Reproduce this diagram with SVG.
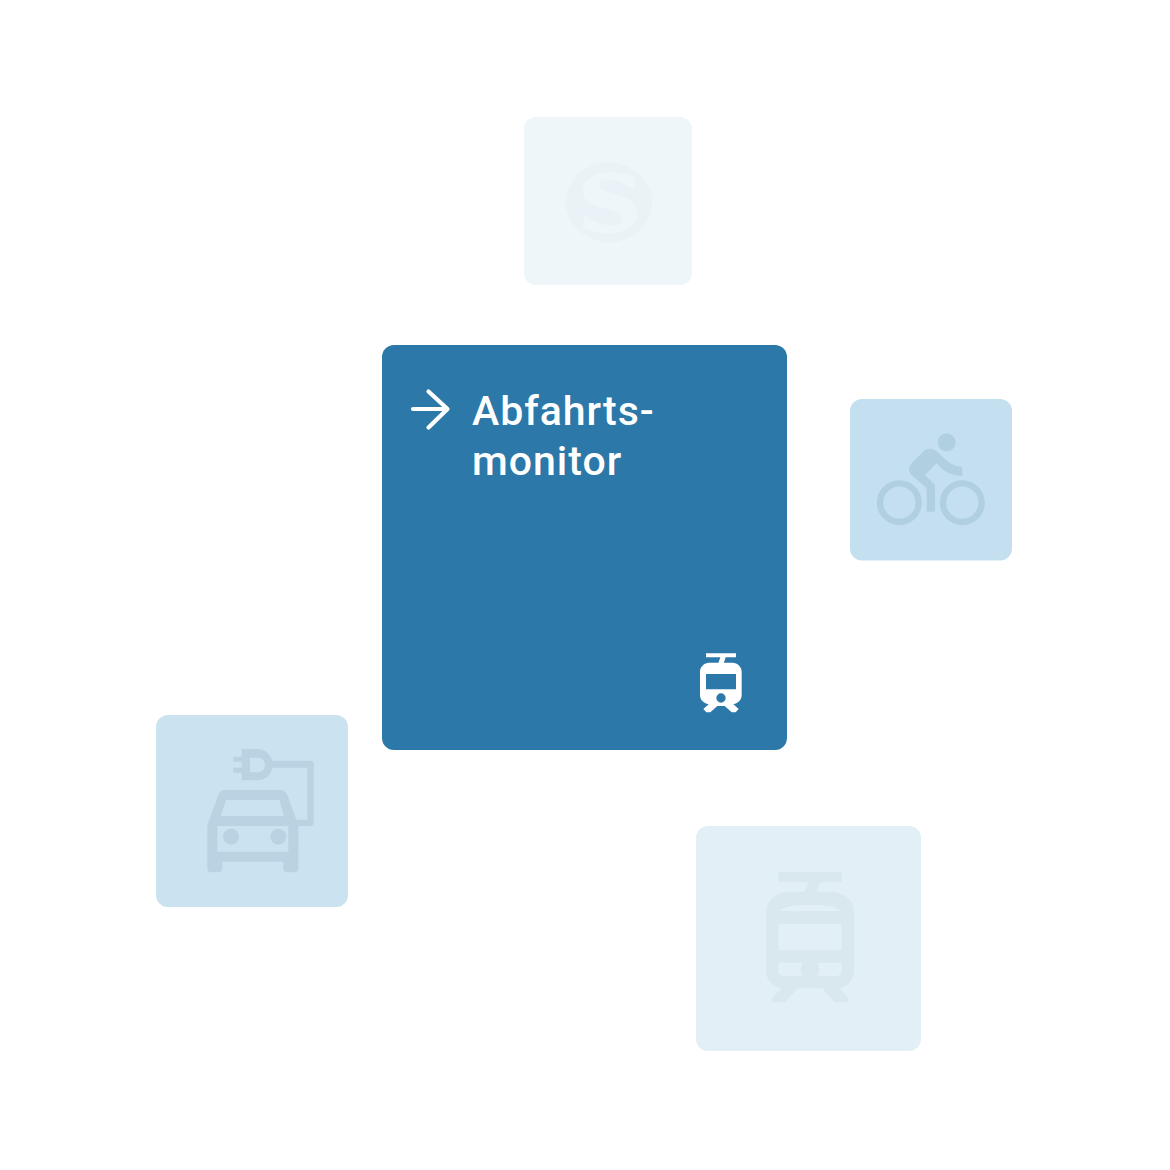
<svg xmlns="http://www.w3.org/2000/svg" width="1170" height="1170" viewBox="0 0 1170 1170">
<style>
.label{font-family:"Roboto","Liberation Sans",sans-serif;font-size:41px;font-weight:500;fill:#fff;letter-spacing:1px}
</style>
<rect width="1170" height="1170" fill="#fff"/>
<g id="node-sbahn">
<rect x="524" y="117" width="168" height="168" rx="12" fill="#eef6fa"/>
<g transform="translate(555 150) scale(.33333)">
<ellipse cx="162" cy="157" rx="130" ry="120" fill="#e9f2f6"/>
<path fill="#eef6fa" d="M240 82L236 120C205 97 170 82 145 88C125 94 128 118 150 124L195 137C245 152 262 190 232 225C195 262 130 252 85 235L88 190C115 218 160 235 188 224C210 212 204 192 172 182L130 170C80 155 70 115 100 88C130 60 190 62 240 82Z"/>
</g>
</g>
<g id="node-bike">
<rect x="850" y="399" width="162" height="161.500" rx="12" fill="#c4dff0"/>
<g transform="translate(865 425) scale(.33333)" fill="#b0cfe1">
<circle cx="245" cy="52" r="27"/>
<circle cx="103" cy="233" r="58" fill="none" stroke="#b0cfe1" stroke-width="19"/>
<circle cx="292" cy="233" r="58" fill="none" stroke="#b0cfe1" stroke-width="19"/>
<path d="M292 126C260 124 240 105 222 85C210 72 195 68 180 75L140 115C128 130 130 140 140 150L185 190V260H210V180L180 150L215 115C235 140 260 153 292 153Z"/>
</g>
</g>
<g id="node-car">
<rect x="156" y="715" width="192" height="192" rx="12" fill="#cbe2f1"/>
<g transform="translate(190 735) scale(.33333)" fill="#bad3e3">
<path fill-rule="evenodd" d="M52 270L85 180Q90 165 105 165H270Q285 165 292 180L325 270V400Q325 412 313 412H292Q280 412 280 400V380H97V400Q97 412 85 412H64Q52 412 52 400ZM108 195L93 243H282L268 195ZM82 273V350H295V273Z"/>
<circle cx="123" cy="305" r="24"/>
<circle cx="265" cy="305" r="24"/>
<path d="M245 77H362Q371 77 371 86V264Q371 273 362 273H318L312 254H352V98H245Z"/>
<path fill-rule="evenodd" d="M155 42H200C228 42 248 62 248 89C248 116 228 136 200 136H155V113H130V98H155V80H130V65H155ZM180 68V112H202C216 112 225 102 225 90C225 78 216 68 202 68Z"/>
</g>
</g>
<g id="node-tram">
<rect x="696" y="826" width="225" height="225" rx="12" fill="#e2eff7"/>
<g transform="translate(750 860) scale(.33333)" fill="#d9e7ef">
<path d="M85 36H275V66H213L198 96H162L177 66H85Z"/>
<path fill-rule="evenodd" d="M120 95H240C285 97 312 120 312 160V330C312 360 295 378 270 385L295 415V427H255L217 385H143L105 427H66V415L95 385C65 378 48 360 48 330V160C48 120 75 97 120 95ZM90 153H270C262 140 235 135 180 135C125 135 98 140 90 153ZM85 192V270H275V192ZM85 308V330C85 342 92 348 104 348H158C150 335 150 322 158 308ZM202 308C210 322 210 335 202 348H256C268 348 275 342 275 330V308Z"/>
</g>
</g>
<g id="node-main">
<rect x="382" y="345" width="405" height="405" rx="12" fill="#2c78a8"/>
<g fill="none" stroke="#fff" stroke-width="4.200" stroke-linecap="round" stroke-linejoin="round">
<path d="M413 409H447M428.500 391.500L447.500 409L428.500 427.500"/>
</g>
<text class="label" x="472" y="425">Abfahrts-</text>
<text class="label" x="472" y="475">monitor</text>
<g transform="translate(680 640) scale(.33333)" fill="#fff">
<path d="M78 40H168V52H137L131 70H115L121 52H78Z"/>
<path fill-rule="evenodd" d="M85 68H160C175 70 185 82 185 95V165C185 180 175 188 160 193L176 207L167 217H155L134 198H112L91 217H79L70 207L86 193C70 188 60 180 60 165V95C60 82 70 70 85 68ZM78 102V148H168V102ZM123 160A14 14 0 1 0 123 188A14 14 0 1 0 123 160Z"/>
</g>
</g>
<g id="connectors"/>
</svg>
